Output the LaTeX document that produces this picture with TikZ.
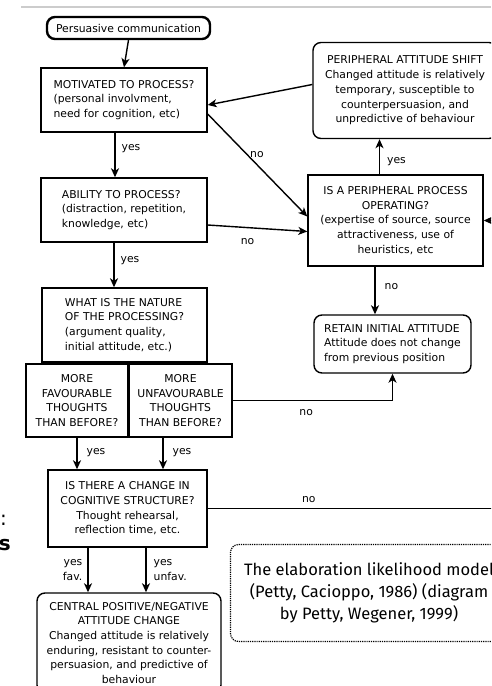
\documentclass[tikz,border=0pt]{standalone}
\usepackage{fontspec}
\setmainfont{DejaVu Sans}
\newfontfamily\notefont{Fira Sans}
\usetikzlibrary{arrows.meta,positioning,calc}

\begin{document}
\begin{tikzpicture}[x=1pt,y=-1pt,
  box/.style={draw,line width=1.4pt,inner sep=0pt,font=\fontsize{10.8}{14.7}\selectfont},
  rbox/.style={box,rounded corners=8pt},
  arr/.style={-{Stealth[length=9pt,width=8pt,inset=2.5pt]},line width=1.4pt},
  lbl/.style={font=\fontsize{10.8}{15}\selectfont,inner sep=2pt}]
  \useasboundingbox (0,0) rectangle (491,686);
  \clip (0,0) rectangle (491,686);
  \draw[gray!40,line width=1.6pt] (21,7) -- (491,7);
  \node[rbox,line width=2.4pt,minimum width=163,minimum height=22] (pc) at (128.5,28) {Persuasive communication};
  \node[box,align=left,minimum width=166,minimum height=64] (mot) at (124,100) {MOTIVATED TO PROCESS?\\(personal involvment,\\need for cognition, etc)};
  \node[box,align=left,minimum width=166,minimum height=64] (abil) at (124,210) {ABILITY TO PROCESS?\\(distraction, repetition,\\knowledge, etc)};
  \node[box,align=left,minimum width=165,minimum height=74] (nat) at (124.5,325) {WHAT IS THE NATURE\\OF THE PROCESSING?\\(argument quality,\\initial attitude, etc.)};
  \node[box,align=center,minimum width=102,minimum height=73] (fav) at (77,400.5) {MORE\\FAVOURABLE\\THOUGHTS\\THAN BEFORE?};
  \node[box,align=center,minimum width=103,minimum height=73] (unfav) at (180.5,400.5) {MORE\\UNFAVOURABLE\\THOUGHTS\\THAN BEFORE?};
  \node[box,align=center,minimum width=159,minimum height=77] (chg) at (127.5,508.5) {IS THERE A CHANGE IN\\COGNITIVE STRUCTURE?\\Thought rehearsal,\\reflection time, etc.};
  \node[rbox,align=center,minimum width=184,minimum height=100] (cen) at (129,643) {CENTRAL POSITIVE/NEGATIVE\\ATTITUDE CHANGE\\Changed attitude is relatively\\enduring, resistant to counter-\\persuasion, and predictive of\\behaviour};
  \node[rbox,align=center,minimum width=184,minimum height=96] (shift) at (405,90.5) {PERIPHERAL ATTITUDE SHIFT\\Changed attitude is relatively\\temporary, susceptible to\\counterpersuasion, and\\unpredictive of behaviour};
  \node[box,align=center,minimum width=175,minimum height=91] (proc) at (395.5,220.5) {IS A PERIPHERAL PROCESS\\OPERATING?\\(expertise of source, source\\attractiveness, use of\\heuristics, etc};
  \node[rbox,align=left,minimum width=157,minimum height=58] (ret) at (392.5,344) {RETAIN INITIAL ATTITUDE\\Attitude does not change\\from previous position};
  \node[draw,rounded corners=8pt,line width=1.2pt,dash pattern=on 1.2pt off 1pt,minimum width=277,minimum height=97,align=center,font={\notefont\fontsize{16.5}{22.3}\selectfont}] (note) at (369,593) {The elaboration likelihood model\\(Petty, Cacioppo, 1986) (diagram\\by Petty, Wegener, 1999)};
  \node[font=\fontsize{20}{20}\selectfont,anchor=base west,inner sep=0pt] (colon) at (0,525) {:};
  \node[font=\bfseries\fontsize{20}{20}\selectfont,anchor=base east,inner sep=0pt] (frag) at (11,550) {s};

  \coordinate (m1) at ([xshift=-9pt]mot.south);
  \coordinate (a1) at ([xshift=-10pt]abil.south);
  \coordinate (u1) at ([xshift=-17.5pt]unfav.south);
  \coordinate (c1) at ([xshift=-39.5pt]chg.south);
  \coordinate (c2) at ([xshift=18.5pt]chg.south);
  \coordinate (p1) at ([xshift=-16pt]proc.north);
  \coordinate (p2) at ([xshift=-20.5pt]proc.south);
  \coordinate (edge) at (505,508.5);

  \draw[arr] (pc.south) -- (mot.north);
  \draw[arr] (m1) -- (m1 |- abil.north) node[lbl,pos=0.36,right=4pt] {yes};
  \draw[arr] (a1) -- (a1 |- nat.north) node[lbl,pos=0.41,right=4pt] {yes};
  \draw[arr] (fav.south) -- (fav.south |- chg.north) node[lbl,pos=0.48,right=7pt] {yes};
  \draw[arr] (u1) -- (u1 |- chg.north) node[lbl,pos=0.48,right=7pt] {yes};
  \draw[arr] (c1) -- (c1 |- cen.north) node[lbl,midway,left=3pt,align=right] {yes\\fav.};
  \draw[arr] (c2) -- (c2 |- cen.north) node[lbl,midway,right=5pt,align=left] {yes\\unfav.};
  \draw[arr] (p1) -- (p1 |- shift.south) node[lbl,pos=0.36,right=5pt] {yes};
  \draw[arr] (p2) -- (p2 |- ret.north) node[lbl,pos=0.42,right=7pt] {no};
  \draw[arr] (unfav.east) -| (ret.south) node[lbl,pos=0.23,below=6pt] {no};
  \draw[arr] ([yshift=6pt]shift.west) -- ([yshift=-5pt]mot.east);
  \draw[arr] ([yshift=-14pt]mot.east) -- ([yshift=4pt]proc.west) node[lbl,pos=0.4,right] {no};
  \draw[arr] ([yshift=-15pt]abil.east) -- ([yshift=-11pt]proc.west) node[lbl,pos=0.4,below=8pt] {no};
  \draw[arr] (chg.east) -- node[lbl,pos=0.34,above=3.5pt] {no} (edge) |- (proc.east);
\end{tikzpicture}
\end{document}
